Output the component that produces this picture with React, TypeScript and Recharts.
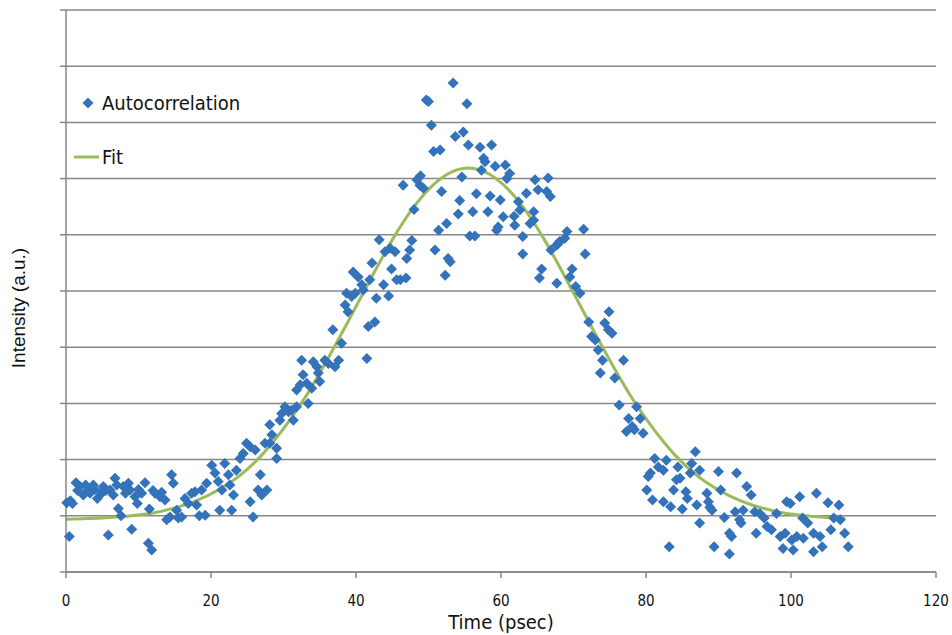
import { ComposedChart, Scatter, Line, XAxis, YAxis, CartesianGrid, Legend } from "recharts"

const X_TICKS = [0, 20, 40, 60, 80, 100, 120]
const Y_TICKS = [0, 1, 2, 3, 4, 5, 6, 7, 8, 9, 10]

// measured points, [time (psec), intensity (a.u.)]
const BASELINE_LEFT = [
  [0.1, 1.23], [0.46, 0.63], [0.6, 1.27], [0.9, 1.22], [1.38, 1.59], [1.6, 1.45], [1.93, 1.52],
  [2.39, 1.37], [2.7, 1.55], [3.08, 1.46], [3.31, 1.4], [3.77, 1.55], [4.0, 1.47], [4.32, 1.31],
  [4.92, 1.4], [5.15, 1.52], [5.5, 1.45], [5.84, 0.66], [6.07, 1.46], [6.53, 1.37], [6.76, 1.67],
  [7.0, 1.55], [7.22, 1.13], [7.59, 1.0], [7.9, 1.52], [8.2, 1.4], [8.6, 1.58], [8.83, 1.46],
  [9.06, 0.76], [9.52, 1.34], [9.84, 1.22], [10.0, 1.47], [10.44, 1.4], [10.9, 1.59], [11.36, 0.51],
  [11.5, 1.12], [11.82, 0.39], [12.0, 1.45], [12.28, 1.4], [12.97, 1.34], [13.2, 1.42], [13.66, 1.28],
  [13.89, 0.93], [14.34, 0.98], [14.57, 1.73], [14.8, 1.58], [15.26, 1.1], [15.49, 0.96], [15.95, 0.98],
  [16.41, 1.31], [16.87, 1.22], [17.33, 1.4], [17.79, 1.43], [18.02, 1.19], [18.39, 1.0],
]

const RISING_EDGE = [
  [18.7, 1.46], [19.2, 1.01], [19.4, 1.58], [20.1, 1.9], [20.55, 1.76], [21.0, 1.61], [21.2, 1.1],
  [21.5, 1.46], [21.9, 1.93], [22.4, 1.73], [22.6, 1.55], [22.85, 1.1], [23.1, 1.37], [23.5, 1.81],
  [24.0, 2.02], [24.45, 2.11], [24.9, 2.29], [25.4, 2.23], [25.4, 1.25], [25.8, 0.98], [26.1, 2.17],
  [26.5, 1.46], [26.8, 1.73], [27.0, 1.37], [27.45, 2.29], [27.7, 1.46], [28.1, 2.29], [28.1, 2.62],
  [28.4, 2.44], [29.05, 2.02], [29.05, 2.2], [29.5, 2.7], [29.75, 2.82], [30.2, 2.94], [30.7, 2.85],
  [31.1, 2.88], [31.35, 2.7], [31.8, 2.94], [31.8, 3.24], [32.3, 3.33], [32.5, 3.77], [32.7, 3.51],
  [33.2, 3.36], [33.4, 3.0], [33.9, 3.27], [34.1, 3.74], [34.6, 3.65], [34.8, 3.54], [35.0, 3.39],
]

const UPPER_RISE = [
  [35.7, 3.77], [36.2, 3.71], [36.8, 4.31], [37.1, 3.65], [37.6, 3.77], [38.0, 4.07], [38.5, 4.75],
  [38.7, 4.96], [38.9, 4.63], [39.4, 4.9], [39.6, 5.34], [39.9, 4.96], [40.3, 5.25], [40.8, 5.11],
  [41.0, 5.02], [41.5, 3.8], [41.7, 4.37], [41.9, 5.2], [42.2, 5.5], [42.6, 4.45], [42.8, 4.87],
  [43.2, 5.91], [43.8, 5.11], [44.0, 5.7], [44.5, 4.91], [44.7, 5.76], [44.9, 5.39], [45.4, 5.7],
  [45.6, 5.2], [46.1, 5.2], [46.9, 5.23], [52.3, 5.28],
]

const PEAK = [
  [46.5, 6.88], [47.0, 5.58], [47.4, 5.73], [47.7, 5.9], [48.0, 6.45], [48.4, 6.98], [48.8, 6.88],
  [48.9, 7.05], [49.3, 6.83], [49.7, 8.4], [50.0, 8.37], [50.4, 7.95], [50.7, 7.48], [50.9, 5.73],
  [51.4, 6.08], [51.6, 7.51], [51.8, 6.77], [52.5, 6.2], [52.7, 5.58], [53.0, 5.52], [53.4, 8.7],
  [53.7, 7.75], [54.1, 6.37], [54.3, 6.61], [54.6, 7.03], [54.8, 7.83], [55.3, 8.33], [55.5, 7.6],
  [55.7, 5.98], [56.1, 6.41], [56.4, 5.98], [56.6, 6.73], [57.1, 7.56], [57.3, 7.15], [57.6, 7.36],
  [57.8, 7.3], [58.2, 6.41], [58.5, 6.69], [58.7, 7.6], [59.2, 7.22], [59.4, 6.08], [59.6, 6.14],
  [59.9, 6.62],
]

const FALLING_EDGE = [
  [60.3, 6.32], [60.6, 7.24], [60.8, 7.0], [61.2, 7.09], [61.8, 6.33], [61.9, 6.17], [62.4, 6.59],
  [62.6, 6.44], [63.0, 5.97], [63.0, 5.66], [63.5, 6.74], [64.0, 6.2], [64.5, 6.41], [64.5, 6.26],
  [64.7, 6.98], [65.1, 6.8], [65.3, 5.23], [65.6, 5.39], [66.3, 6.77], [66.5, 7.01], [66.8, 6.68],
  [66.9, 5.73], [67.7, 5.82], [67.7, 5.14], [67.9, 5.85], [68.1, 5.88], [68.8, 5.94], [69.1, 6.06],
  [69.5, 5.25], [69.8, 5.39], [70.3, 5.08], [70.9, 4.96], [71.4, 6.1], [71.6, 5.66], [72.1, 4.45],
  [72.5, 4.19], [73.0, 4.13], [73.4, 3.95], [73.7, 3.54], [74.0, 3.77], [74.3, 4.43], [74.8, 4.31],
  [74.9, 4.63], [75.3, 4.25], [75.7, 3.45], [76.3, 2.97], [76.9, 3.77], [77.3, 2.5], [77.6, 2.73],
  [78.1, 2.59], [78.4, 2.53], [78.7, 2.94], [79.2, 2.73],
]

const BASELINE_RIGHT = [
  [79.6, 2.47], [80.1, 1.46], [80.3, 1.7], [80.6, 1.76], [80.9, 1.28], [81.2, 2.02], [81.7, 1.87],
  [82.4, 1.81], [82.4, 1.25], [82.8, 1.99], [83.2, 0.45], [83.4, 1.16], [83.8, 1.46], [84.2, 1.64],
  [84.4, 1.87], [84.7, 1.67], [85.0, 1.12], [85.5, 1.43], [85.7, 1.31], [86.1, 1.76], [86.3, 1.93],
  [86.8, 2.14], [87.0, 1.19], [87.4, 1.81], [87.4, 0.87], [88.4, 1.4], [88.6, 1.25], [88.8, 1.15],
  [89.1, 1.1], [89.4, 0.45], [90.0, 1.79], [90.3, 1.46], [90.8, 0.97], [91.5, 0.69], [91.5, 0.32],
  [91.8, 0.63], [92.3, 1.07], [92.5, 1.76], [92.9, 0.93], [93.1, 0.87], [93.4, 1.1], [93.9, 1.52],
  [94.5, 1.37], [95.0, 1.07], [95.2, 0.69], [95.7, 1.04], [96.3, 0.96], [96.7, 0.81], [97.3, 0.75],
  [98.0, 1.04], [98.5, 0.63], [98.9, 0.42], [99.2, 0.69], [99.4, 1.25], [99.9, 1.22], [100.1, 0.57],
  [100.3, 0.39], [100.8, 0.63], [101.2, 1.34], [101.6, 0.96], [101.7, 0.6], [102.3, 0.87], [103.1, 0.69],
  [103.1, 0.36], [103.5, 1.4], [104.0, 0.63], [104.3, 0.45], [105.1, 1.23], [105.5, 0.75], [105.9, 0.96],
  [106.6, 1.19], [106.8, 0.93], [107.4, 0.69], [107.9, 0.45],
]

// fitted curve
const FIT_TIME = [0, 3, 6, 9, 12, 15, 18, 21, 24, 27, 30, 33, 36, 39, 42, 45, 48, 51, 54, 55.5, 57, 60, 63, 66, 69, 72, 75, 78, 81, 84, 87, 90, 93, 96, 99, 102, 105, 107.5]
const FIT_INTENSITY = [0.94, 0.95, 0.97, 1.0, 1.05, 1.14, 1.27, 1.46, 1.72, 2.08, 2.55, 3.11, 3.77, 4.48, 5.21, 5.91, 6.5, 6.93, 7.16, 7.19, 7.16, 6.93, 6.5, 5.91, 5.21, 4.48, 3.77, 3.11, 2.55, 2.08, 1.72, 1.46, 1.27, 1.14, 1.05, 1.0, 0.97, 0.95]

const POINTS = [...BASELINE_LEFT, ...RISING_EDGE, ...UPPER_RISE, ...PEAK, ...FALLING_EDGE, ...BASELINE_RIGHT].map(
  ([x, y]) => ({ x, y })
)
const FIT = FIT_TIME.map((x, i) => ({ x, y: FIT_INTENSITY[i] }))

const BLUE = "#3472ba"
const GREEN = "#9bbb59"
const GRID = "#878787"
const FONT = "'DejaVu Sans Condensed', 'Liberation Sans', sans-serif"

function Diamond({ cx, cy }: any) {
  if (cx == null || cy == null) return null
  const r = 5.5
  return <path d={`M${cx},${cy - r}L${cx + r},${cy}L${cx},${cy + r}L${cx - r},${cy}Z`} fill={BLUE} />
}

function LegendBox() {
  const row = { display: "flex", alignItems: "center", height: 54 }
  return (
    <div style={{ fontFamily: FONT, fontSize: 20, color: "#111" }}>
      <div style={row}>
        <svg width={29} height={20}>
          <path d="M15,4.5L20.5,10L15,15.5L9.5,10Z" fill={BLUE} />
        </svg>
        <span>Autocorrelation</span>
      </div>
      <div style={row}>
        <svg width={29} height={20}>
          <line x1={1} x2={26} y1={10} y2={10} stroke={GREEN} strokeWidth={3} />
        </svg>
        <span>Fit</span>
      </div>
    </div>
  )
}

function YTitle() {
  return (
    <text
      x={18}
      y={308}
      transform="rotate(-90 18 308)"
      textAnchor="middle"
      dominantBaseline="central"
      fontFamily="'Liberation Sans', sans-serif"
      fontSize={19}
      fill="#111"
    >
      Intensity (a.u.)
    </text>
  )
}

export default function App() {
  return (
    <div style={{ position: "absolute", left: 0, top: 0, width: 952, height: 635, background: "#fff" }}>
      <ComposedChart width={952} height={635} margin={{ top: 10, right: 16, bottom: 0, left: 0 }}>
        <CartesianGrid horizontal vertical={false} stroke={GRID} strokeWidth={1.5} />
        <XAxis
          type="number"
          dataKey="x"
          domain={[0, 120]}
          ticks={X_TICKS}
          height={63}
          stroke={GRID}
          strokeWidth={1.5}
          tickSize={6}
          tickMargin={17}
          tick={{ fontFamily: FONT, fontSize: 15, fill: "#111" }}
          label={{
            value: "Time (psec)",
            position: "insideBottom",
            offset: 6,
            style: { fontFamily: FONT, fontSize: 20, fill: "#111" },
          }}
        />
        <YAxis
          type="number"
          dataKey="y"
          domain={[0, 10]}
          ticks={Y_TICKS}
          width={66}
          stroke={GRID}
          strokeWidth={1.5}
          tickSize={6}
          tickFormatter={() => ""}
          label={{ content: () => <YTitle /> }}
        />
        <Legend
          layout="vertical"
          align="center"
          verticalAlign="middle"
          content={() => <LegendBox />}
          wrapperStyle={{ left: 73, top: 76, width: 200 }}
        />
        <Scatter name="Autocorrelation" data={POINTS} fill={BLUE} shape={<Diamond />} isAnimationActive={false} />
        <Line
          name="Fit"
          data={FIT}
          dataKey="y"
          type="monotone"
          stroke={GREEN}
          strokeWidth={3}
          dot={false}
          activeDot={false}
          isAnimationActive={false}
        />
      </ComposedChart>
    </div>
  )
}
